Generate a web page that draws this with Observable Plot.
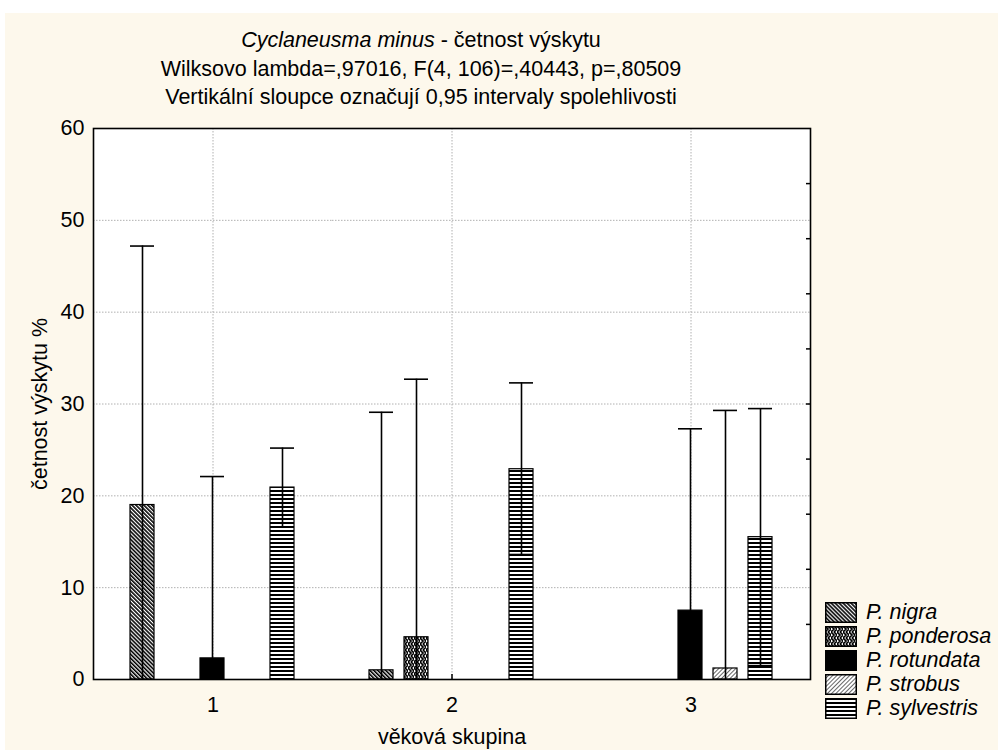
<!DOCTYPE html>
<html>
<head>
<meta charset="utf-8">
<script src="https://cdn.jsdelivr.net/npm/d3@7"></script>
<script src="https://cdn.jsdelivr.net/npm/@observablehq/plot@0.6"></script>
<style>
  body { margin: 0; background: #ffffff; font-family: "Liberation Sans", Arial, sans-serif; color: #000; }
  #page { position: relative; width: 998px; height: 756px; overflow: hidden; }
  #panel { position: absolute; left: 5px; top: 13px; width: 993px; height: 737px; background: #fdf8ec; }
  #titles { position: absolute; left: 0; top: 26px; width: 842px; text-align: center; font-size: 21.5px; }
  #titles div { height: 28.5px; line-height: 28.5px; white-space: nowrap; }
  #chart { position: absolute; left: 0; top: 110px; }
  #legend { position: absolute; left: 825px; top: 600px; }
  .item { display: flex; align-items: center; height: 24px; font-style: italic; font-size: 21.5px; white-space: nowrap; }
  .item svg { margin-right: 9px; display: block; }
</style>
</head>
<body>
<svg width="0" height="0" style="position:absolute">
  <defs>
    <pattern id="pat-nigra" patternUnits="userSpaceOnUse" width="2.8" height="2.8" patternTransform="rotate(-45)">
      <rect width="2.8" height="2.8" fill="#fff"/>
      <rect width="1.6" height="2.8" fill="#000"/>
    </pattern>
    <pattern id="pat-ponderosa" patternUnits="userSpaceOnUse" width="6" height="6">
      <rect width="6" height="6" fill="#fff"/>
      <path d="M0,0 L3,3 L0,6 M3,0 L6,3 L3,6" fill="none" stroke="#000" stroke-width="1.7"/>
    </pattern>
    <pattern id="pat-rotundata" patternUnits="userSpaceOnUse" width="4" height="4">
      <rect width="4" height="4" fill="#000"/>
    </pattern>
    <pattern id="pat-strobus" patternUnits="userSpaceOnUse" width="3" height="3" patternTransform="rotate(45)">
      <rect width="3" height="3" fill="#fff"/>
      <rect width="1" height="3" fill="#666"/>
    </pattern>
    <pattern id="pat-sylvestris" patternUnits="userSpaceOnUse" width="4" height="4">
      <rect width="4" height="4" fill="#fff"/>
      <rect width="4" height="2" fill="#000"/>
    </pattern>
  </defs>
</svg>

<div id="page">
  <div id="panel"></div>
  <div id="titles">
    <div><i>Cyclaneusma minus</i> - četnost výskytu</div>
    <div>Wilksovo lambda=,97016, F(4, 106)=,40443, p=,80509</div>
    <div>Vertikální sloupce označují 0,95 intervaly spolehlivosti</div>
  </div>
  <div id="chart"></div>
  <div id="legend"></div>
</div>

<script>
// Age groups (x facets) and species (bars within each group)
const groups = ["1", "2", "3"];
const species = ["P. nigra", "P. ponderosa", "P. rotundata", "P. strobus", "P. sylvestris"];

// Mean occurrence (%) per species (rows) and age group (columns); null = no data
const means = [
  [19.0, 1.0, null],
  [null, 4.6, null],
  [2.3, null, 7.5],
  [null, null, 1.2],
  [20.9, 22.9, 15.5]
];

// Upper and lower limits of the 0.95 confidence intervals
const upperCI = [
  [47.2, 29.1, null],
  [null, 32.7, null],
  [22.1, null, 27.3],
  [null, null, 29.3],
  [25.2, 32.3, 29.5]
];
const lowerCI = [
  [-9.2, -27.1, null],
  [null, -23.5, null],
  [-17.5, null, -12.3],
  [null, null, -26.9],
  [16.6, 13.6, 1.5]
];

// Hatch patterns used as bar fills, one per species
const patterns = ["url(#pat-nigra)", "url(#pat-ponderosa)", "url(#pat-rotundata)", "url(#pat-strobus)", "url(#pat-sylvestris)"];

const rows = [];
species.forEach((s, si) => groups.forEach((g, gi) => {
  if (means[si][gi] == null) return;
  rows.push({group: g, species: s, mean: means[si][gi], hi: upperCI[si][gi], lo: lowerCI[si][gi]});
}));

const font = "'Liberation Sans', Arial, sans-serif";

const chart = Plot.plot({
  width: 998,
  height: 646,
  marginTop: 18,
  marginBottom: 77,
  marginLeft: 92,
  marginRight: 187,
  style: {background: "transparent", fontFamily: font, fontSize: "21.5px", color: "#000", overflow: "visible"},
  fx: {domain: groups, padding: 0},
  x: {domain: species, paddingInner: 0.3056, paddingOuter: 0.986, axis: null},
  y: {domain: [0, 60]},
  color: {type: "ordinal", domain: species, range: patterns},
  marks: [
    Plot.frame({fill: "white", facet: "super"}),
    Plot.gridY(d3.range(10, 60, 10), {stroke: "#b0b0b0", strokeOpacity: 1, strokeDasharray: "1.5,1.5"}),
    Plot.gridFx({stroke: "#b0b0b0", strokeOpacity: 1, strokeDasharray: "1.5,1.5"}),
    Plot.barY(rows, {fx: "group", x: "species", y: "mean", fill: "species", stroke: "#000", strokeWidth: 1.2}),
    Plot.ruleX(rows, {fx: "group", x: "species", y1: "lo", y2: "hi", stroke: "#000", strokeWidth: 1.6, clip: true}),
    Plot.tickY(rows, {fx: "group", x: "species", y: "hi", stroke: "#000", strokeWidth: 1.6}),
    Plot.tickY(rows.filter(d => d.lo > 0), {fx: "group", x: "species", y: "lo", stroke: "#000", strokeWidth: 1.8}),
    Plot.axisY({ticks: d3.range(0, 61, 10), tickSize: 0, tickPadding: 9, fontSize: 21.5,
      label: "četnost výskytu %", labelAnchor: "center", labelOffset: 62, labelArrow: "none"}),
    Plot.axisY({anchor: "right", ticks: d3.range(6, 60, 6), tickSize: -5, tickFormat: () => "", label: null, strokeWidth: 1.5}),
    Plot.axisFx({anchor: "bottom", tickSize: -5, tickPadding: 22, fontSize: 21.5, strokeWidth: 1.5,
      label: "věková skupina", labelAnchor: "center", labelOffset: 64, labelArrow: "none"}),
    Plot.frame({facet: "super", stroke: "#000", strokeWidth: 1.6})
  ]
});
document.getElementById("chart").appendChild(chart);

// Legend: one swatch per species with its hatch pattern
const legend = d3.select("#legend");
species.forEach((s, i) => {
  const item = legend.append("div").attr("class", "item");
  const sw = item.append("svg").attr("width", 32).attr("height", 21);
  sw.append("rect").attr("x", 0.75).attr("y", 0.75).attr("width", 30.5).attr("height", 19.5)
    .attr("fill", patterns[i]).attr("stroke", "#000").attr("stroke-width", 1.5);
  item.append("span").text(s);
});
</script>
</body>
</html>
